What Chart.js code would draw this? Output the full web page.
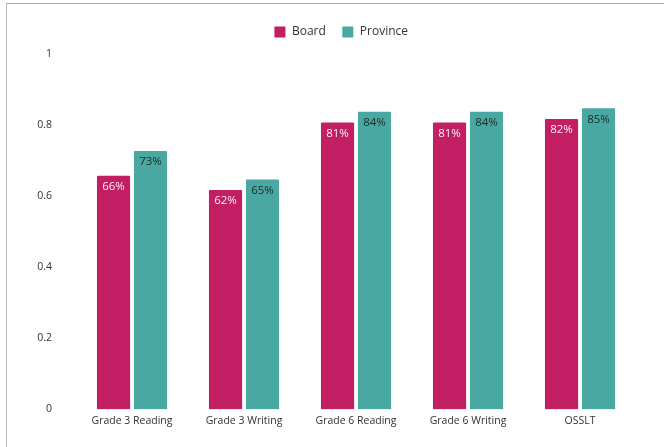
<!DOCTYPE html>
<html>
<head>
<meta charset="utf-8">
<script src="https://cdn.jsdelivr.net/npm/chart.js@4"></script>
<style>
  html, body { margin: 0; padding: 0; background: #fff; }
  #wrap { position: relative; width: 664px; height: 447px; }
  #frame { position: absolute; left: 6px; top: 3px; right: 0; bottom: 0;
           border-top: 1px solid #aaa; border-left: 1px solid #bbb; pointer-events: none; }
</style>
</head>
<body>
<div id="wrap">
  <canvas id="chart" width="664" height="447"></canvas>
  <div id="frame"></div>
</div>
<script>
const categories = ["Grade 3 Reading", "Grade 3 Writing", "Grade 6 Reading", "Grade 6 Writing", "OSSLT"];
const board = [0.66, 0.62, 0.81, 0.81, 0.82];
const province = [0.73, 0.65, 0.84, 0.84, 0.85];
const yTicks = [0, 0.2, 0.4, 0.6, 0.8, 1];

// draws the percentage inside each bar, near the top
const barLabels = {
    id: "barLabels",
    afterDatasetsDraw(chart) {
        const ctx = chart.ctx;
        ctx.save();
        ctx.font = "11.5px 'Open Sans'";
        ctx.textAlign = "center";
        ctx.textBaseline = "middle";
        chart.data.datasets.forEach((ds, i) => {
            const meta = chart.getDatasetMeta(i);
            meta.data.forEach((bar, j) => {
                ctx.fillStyle = i === 0 ? "#fbeef3" : "#1e2a2a";
                ctx.fillText(Math.round(ds.data[j] * 100) + "%", bar.x, bar.y + 12);
            });
        });
        ctx.restore();
    },
};

// a bit more room under the legend, and nudge it right like the original
const legendTweak = {
    id: "legendTweak",
    afterInit(chart) {
        const fit = chart.legend.fit;
        chart.legend.fit = function () {
            fit.call(this);
            this.height += 6;
        };
    },
    afterLayout(chart) {
        chart.legend.left += 15;
        chart.legend.right += 15;
    },
};

new Chart(document.getElementById("chart"), {
    type: "bar",
    data: {
        labels: categories,
        datasets: [
            {
                label: "Board",
                data: board,
                backgroundColor: "#c21e63",
                borderColor: "#ffffff",
                borderWidth: 1,
                borderRadius: 2,
                borderSkipped: "bottom",
            },
            {
                label: "Province",
                data: province,
                backgroundColor: "#4aa8a2",
                borderColor: "#ffffff",
                borderWidth: 1,
                borderRadius: 2,
                borderSkipped: "bottom",
            },
        ],
    },
    options: {
        responsive: false,
        animation: false,
        layout: { padding: { left: 16, right: 28, top: 10, bottom: 15 } },
        categoryPercentage: 0.66,
        barPercentage: 0.95,
        plugins: {
            legend: {
                position: "top",
                labels: {
                    boxWidth: 12,
                    boxHeight: 12,
                    padding: 16,
                    color: "#333",
                    font: { family: "'Open Sans'", size: 12 },
                },
            },
            tooltip: { enabled: false },
        },
        scales: {
            x: {
                grid: { display: false, drawTicks: false },
                border: { display: false },
                ticks: { color: "#333", font: { family: "'Open Sans'", size: 10.5 }, padding: 5 },
            },
            y: {
                min: 0,
                max: 1,
                afterBuildTicks: (scale) => { scale.ticks = yTicks.map((v) => ({ value: v })); },
                afterFit: (scale) => { scale.width = 60; },
                grid: { display: false, drawTicks: false },
                border: { display: false },
                ticks: {
                    color: "#333",
                    font: { family: "'Open Sans'", size: 10.5 },
                    padding: 24,
                    callback: (v) => String(v),
                },
            },
        },
    },
    plugins: [barLabels, legendTweak],
});
</script>
</body>
</html>
